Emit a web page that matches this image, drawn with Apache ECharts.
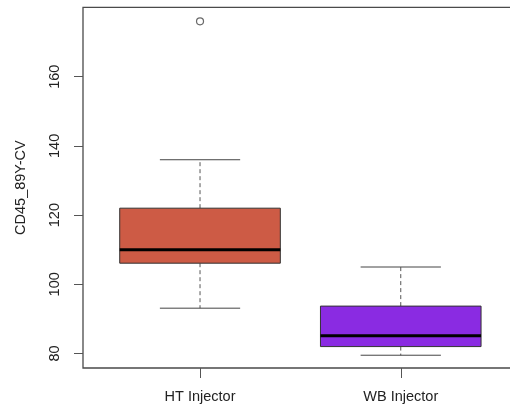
<!DOCTYPE html>
<html><head><meta charset="utf-8">
<script src="https://cdn.jsdelivr.net/npm/echarts@6/dist/echarts.min.js"></script>
<style>html,body{margin:0;padding:0;background:#fff}#c{width:510px;height:406px}</style>
</head><body><div id="c"></div>
<script>
const categories = ['HT Injector', 'WB Injector'];
const lowerWhisker = [93.1, 79.5];
const lowerQuartile = [106.1, 82.0];
const medians = [110.0, 85.1];
const upperQuartile = [122.0, 93.7];
const upperWhisker = [136.0, 105.0];
const outlierCategory = [0];
const outlierValue = [176.0];
const boxColors = ['#CD5B45', '#8A2BE2'];
const yTicks = [80, 100, 120, 140, 160];
const yTitle = 'CD45_89Y-CV';

const boxData = categories.map((c, i) => [i + 1, lowerWhisker[i], lowerQuartile[i], medians[i], upperQuartile[i], upperWhisker[i]]);
const outlierData = outlierCategory.map((c, i) => [c + 1, outlierValue[i]]);

const chart = echarts.init(document.getElementById('c'), null, {renderer: 'canvas'});
const font = 'Liberation Sans, Arial, sans-serif';
chart.setOption({
  animation: false,
  backgroundColor: '#fff',
  grid: {left: 83, top: 7.3, width: 440, height: 360.7, show: true, borderColor: '#4a4a4a', borderWidth: 1.3, backgroundColor: 'transparent', outerBoundsMode: 'none', containLabel: false},
  xAxis: {
    type: 'value', min: 0.417, max: 2.609,
    axisLine: {show: false},
    splitLine: {show: false},
    axisTick: {show: true, customValues: [1, 2], length: 10, lineStyle: {color: '#555', width: 1}},
    axisLabel: {customValues: [1, 2], formatter: v => categories[Math.round(v) - 1] || '', margin: 21, fontSize: 14.5, color: '#222', fontFamily: font}
  },
  yAxis: {
    type: 'value', min: 75.81, max: 180.06,
    axisLine: {show: false},
    splitLine: {show: false},
    axisTick: {show: true, customValues: yTicks, length: 9, lineStyle: {color: '#555', width: 1}},
    axisLabel: {customValues: yTicks, rotate: 90, margin: 21, fontSize: 14.5, color: '#222', fontFamily: font},
    name: yTitle, nameLocation: 'middle', nameRotate: 90, nameGap: 55,
    nameTextStyle: {fontSize: 14.5, color: '#222', fontFamily: font}
  },
  series: [
    {
      type: 'custom',
      data: boxData,
      renderItem: function (params, api) {
        const x = api.value(0);
        const pMin = api.coord([x, api.value(1)]);
        const pQ1 = api.coord([x, api.value(2)]);
        const pMed = api.coord([x, api.value(3)]);
        const pQ3 = api.coord([x, api.value(4)]);
        const pMax = api.coord([x, api.value(5)]);
        const cx = pMed[0];
        const bw = api.size([0.8, 0])[0];
        const cw = api.size([0.4, 0])[0];
        const color = boxColors[params.dataIndex];
        const dashStyle = {stroke: '#555', lineWidth: 1, lineDash: [4, 3]};
        const capStyle = {stroke: '#444', lineWidth: 1};
        return {
          type: 'group',
          children: [
            {type: 'line', shape: {x1: cx, y1: pQ3[1], x2: cx, y2: pMax[1]}, style: dashStyle},
            {type: 'line', shape: {x1: cx, y1: pQ1[1], x2: cx, y2: pMin[1]}, style: dashStyle},
            {type: 'line', shape: {x1: cx - cw / 2, y1: pMax[1], x2: cx + cw / 2, y2: pMax[1]}, style: capStyle},
            {type: 'line', shape: {x1: cx - cw / 2, y1: pMin[1], x2: cx + cw / 2, y2: pMin[1]}, style: capStyle},
            {type: 'rect', shape: {x: cx - bw / 2, y: pQ3[1], width: bw, height: pQ1[1] - pQ3[1]}, style: {fill: color, stroke: '#333', lineWidth: 1}},
            {type: 'line', shape: {x1: cx - bw / 2, y1: pMed[1], x2: cx + bw / 2, y2: pMed[1]}, style: {stroke: '#000', lineWidth: 3}}
          ]
        };
      }
    },
    {
      type: 'scatter',
      data: outlierData,
      symbol: 'circle',
      symbolSize: 7,
      itemStyle: {color: 'transparent', borderColor: '#444', borderWidth: 1.2}
    }
  ]
});
</script>
</body></html>
